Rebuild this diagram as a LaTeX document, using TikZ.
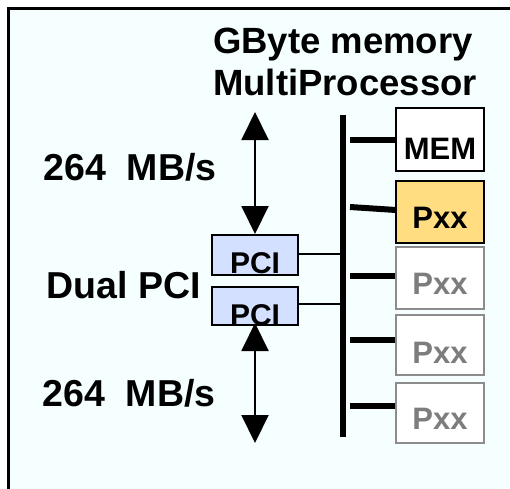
\documentclass[tikz,border=0pt]{standalone}
\usepackage{fontspec}
\setmainfont{Liberation Sans}
\usetikzlibrary{arrows.meta}
\definecolor{bgcyan}{RGB}{245,255,255}
\definecolor{pcifill}{RGB}{212,224,255}
\definecolor{pxxfill}{RGB}{255,221,128}
\definecolor{grayline}{RGB}{140,140,140}
\definecolor{graytext}{RGB}{125,125,125}
\begin{document}
\begin{tikzpicture}[x=1pt,y=-1pt,
  lbl/.style={font=\fontsize{37.5}{40}\selectfont\bfseries, inner sep=0pt, anchor=base},
  ttl/.style={font=\fontsize{36.5}{40}\selectfont\bfseries, inner sep=0pt, anchor=base},
  boxbase/.style={draw, line width=2pt, inner sep=0pt, minimum width=88pt, font=\fontsize{31}{33}\selectfont\bfseries},
  pcibox/.style={draw, line width=2pt, fill=pcifill, inner sep=0pt, minimum width=86pt, font=\fontsize{30}{32}\selectfont\bfseries},
  pxxgray/.style={boxbase, draw=grayline, fill=white, text=graytext},
  branch/.style={line width=6pt},
  thin/.style={line width=1.5pt},
  dblarrow/.style={line width=2pt, {Triangle[width=27pt,length=28pt]}-{Triangle[width=27pt,length=28pt]}}
]
\useasboundingbox (0,0) rectangle (510,488);
\begin{scope}
\clip (0,0) rectangle (510,488);
\fill[white] (0,0) rectangle (510,488);
\draw[line width=3pt, fill=bgcyan] (8.5,8.5) rectangle (530,510);
\end{scope}

% titles
\node[ttl] (t1) at (343,53) {GByte memory};
\node[ttl] (t2) at (345,95) {MultiProcessor};

% left labels
\node[lbl] (r1) at (130,180) {264~~MB/s};
\node[lbl] (dual) at (124,298) {Dual PCI};
\node[lbl] (r2) at (129,406) {264~~MB/s};

% memory / processor boxes
\node[boxbase, fill=white, text height=51pt, text depth=12pt] (mem) at (440,139.5) {MEM};
\node[boxbase, fill=pxxfill, text height=47pt, text depth=15pt] (p1) at (440,212) {Pxx\hspace{6pt}};
\node[pxxgray, text height=47pt, text depth=15pt] (p2) at (440,278) {Pxx\hspace{6pt}};
\node[pxxgray, text height=48pt, text depth=12pt] (p3) at (440,345) {Pxx\hspace{6pt}};
\node[pxxgray, text height=46pt, text depth=14pt] (p4) at (440,413) {Pxx\hspace{6pt}};

% PCI boxes
\node[pcibox, text height=38pt, text depth=2pt] (pci1) at (255,255) {PCI\hspace{4pt}};
\node[pcibox, text height=38pt, text depth=0pt] (pci2) at (255,306) {PCI\hspace{4pt}};

% bus
\coordinate (bt) at (343,115);
\coordinate (bb) at (343,437);
\draw[line width=6pt] (bt) -- (bb);

% branches
\coordinate (b0) at (350,140);
\coordinate (b1) at (350,207);
\coordinate (b2) at (350,276);
\coordinate (b3) at (350,340);
\coordinate (b4) at (350,406);
\draw[branch] (b0) -- (mem.west |- b0);
\draw[branch] (b1) -- (396,210);
\draw[branch] (b2) -- (p2.west |- b2);
\draw[branch] (b3) -- (p3.west |- b3);
\draw[branch] (b4) -- (p4.west |- b4);

% PCI to bus
\coordinate (c1) at (341,254);
\coordinate (c2) at (341,304);
\draw[thin] (pci1.east |- c1) -- (c1);
\draw[thin] (pci2.east |- c2) -- (c2);

% arrows
\coordinate (a1) at (255,112);
\coordinate (a2) at (255,443);
\coordinate (a2s) at (255,323);
\draw[dblarrow] (a1) -- (pci1.north);
\draw[dblarrow] (a2s) -- (a2);
\end{tikzpicture}
\end{document}
